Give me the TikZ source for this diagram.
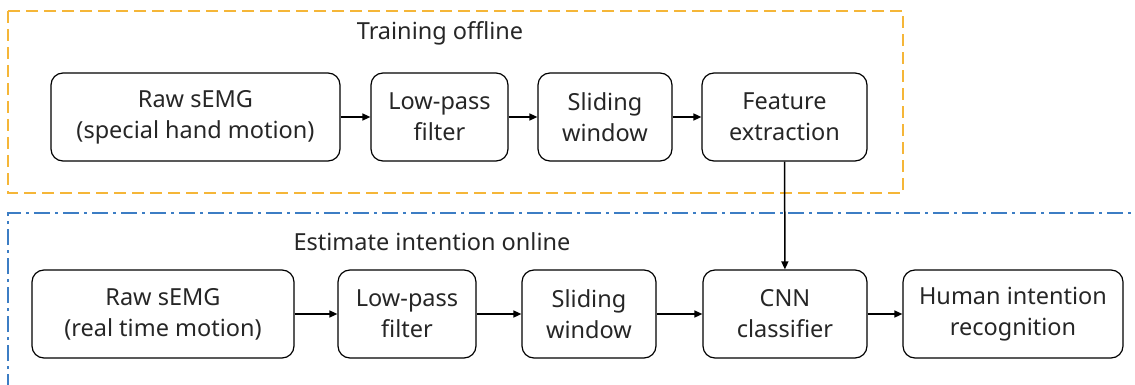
\documentclass[tikz,border=0pt]{standalone}
\usepackage{fontspec}
\setmainfont{Noto Sans}
\usetikzlibrary{arrows.meta}
\definecolor{orangeb}{HTML}{F5B638}
\definecolor{blueb}{HTML}{3C7DC4}
\begin{document}
\begin{tikzpicture}[x=1pt,y=-1pt,
  blk/.style={draw, line width=1.2pt, rounded corners=12pt, align=center,
    minimum height=88pt, inner sep=0pt, font=\fontsize{23.5}{31}\selectfont, text=black!85},
  arr/.style={line width=1.5pt, -{Triangle[length=8pt,width=7pt]}},
  lbl/.style={font=\fontsize{23.5}{31}\selectfont, text=black!85}]
\useasboundingbox (0,0) rectangle (1135,385);
% group frames
\draw[orangeb, line width=1.2pt, dash pattern=on 12pt off 6pt] (8,11) rectangle (903,193);
\draw[blueb, line width=1.2pt, dash pattern=on 16pt off 5pt on 3pt off 5pt] (8,390) -- (8,213) -- (1140,213);
\node[lbl] (t1) at (440,33) {Training offline};
\node[lbl] (t2) at (432,242) {Estimate intention online};
% top row
\node[blk, minimum width=289pt] (a1) at (195.5,117) {Raw sEMG\\(special hand motion)};
\node[blk, minimum width=137pt] (a2) at (439.5,117) {Low-pass\\filter};
\node[blk, minimum width=134pt] (a3) at (605,117) {Sliding\\window};
\node[blk, minimum width=165pt] (a4) at (784.5,117) {Feature\\extraction};
% bottom row
\node[blk, minimum width=262pt] (b1) at (163,314) {Raw sEMG\\(real time motion)};
\node[blk, minimum width=138pt] (b2) at (407,314) {Low-pass\\filter};
\node[blk, minimum width=134pt] (b3) at (589,314) {Sliding\\window};
\node[blk, minimum width=164pt] (b4) at (785,314) {CNN\\classifier};
\node[blk, minimum width=220pt] (b5) at (1013,314) {Human intention\\recognition};
% arrows
\draw[arr] (a1) -- (a2);
\draw[arr] (a2) -- (a3);
\draw[arr] (a3) -- (a4);
\draw[arr] (a4) -- (b4);
\draw[arr] (b1) -- (b2);
\draw[arr] (b2) -- (b3);
\draw[arr] (b3) -- (b4);
\draw[arr] (b4) -- (b5);
\end{tikzpicture}
\end{document}
